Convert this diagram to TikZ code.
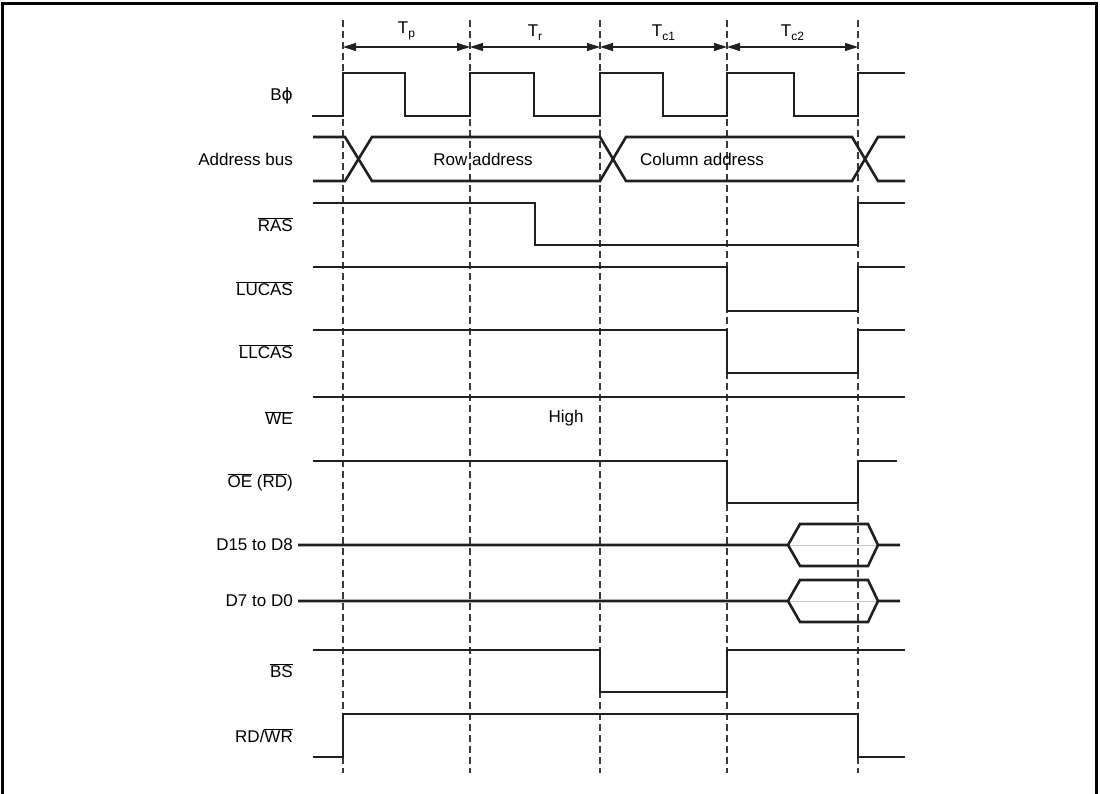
\documentclass[tikz,border=0pt]{standalone}
\usepackage{fontspec}
\setmainfont{Liberation Sans}
\newfontfamily\symfont{DejaVu Sans}
\usetikzlibrary{arrows.meta, positioning, calc}
\definecolor{wave}{HTML}{231F20}
\definecolor{guide}{HTML}{3A3A3A}
\definecolor{midgray}{HTML}{C8C8C8}
\newcommand{\negsig}[1]{$\overline{\mbox{#1}}$}
\newcommand{\Tsub}[1]{T\raisebox{-4pt}{\fontsize{12}{12}\selectfont #1}}

\begin{document}
\begin{tikzpicture}[
        x=1pt, y=-1pt,
        sig/.style={draw=wave, line width=2.6pt, line join=miter},
        tick/.style={draw=guide, line width=1.1pt, dash pattern=on 7pt off 4pt},
        span/.style={draw=wave, line width=1.1pt,
            {Triangle[length=13pt,width=8pt]}-{Triangle[length=13pt,width=8pt]}},
        lbl/.style={anchor=east, font=\fontsize{17}{20}\selectfont, inner sep=0pt},
        txt/.style={font=\fontsize{17}{20}\selectfont, inner sep=0pt},
        hold/.style={draw=midgray, line width=0.8pt}
    ]
    \useasboundingbox (0,0) rectangle (1100,794);

    % Frame
    \draw[line width=3pt] (2.5,800) -- (2.5,4) -- (1096,4) -- (1096,800);

    % Clock edges
    \foreach \n/\x in {0/343, 1/470, 2/600, 3/727, 4/858} {
        \coordinate (t\n) at (\x,47);
        \draw[tick] (\x,20) -- (\x,773);
    }

    % Cycle states
    \foreach \a/\b/\s in {0/1/p, 1/2/r, 2/3/c1, 3/4/c2}
        \draw[span] (t\a) -- node[pos=.5, above=6pt, txt] {\Tsub{\s}} (t\b);

    % Signal names
    \node[lbl] (bphi) at (293,96) {B{\symfont ϕ}};
    \node[lbl] (addr) at (293,159) {Address bus};
    \node[lbl] (ras) at (293,225) {\negsig{RAS}};
    \node[lbl] (lucas) at (293,289) {\negsig{LUCAS}};
    \node[lbl] (llcas) at (293,352) {\negsig{LLCAS}};
    \node[lbl] (we) at (293,418) {\negsig{WE}};
    \node[lbl] (oe) at (293,482) {\negsig{OE} (\negsig{RD})};
    \node[lbl] (dhi) at (293,545) {D15 to D8};
    \node[lbl] (dlo) at (293,601) {D7 to D0};
    \node[lbl] (bs) at (293,671) {\negsig{BS}};
    \node[lbl] (rdwr) at (293,736) {RD/\negsig{WR}};

    % B phi
    \draw[sig] (312,116) -- (343,116) -- (343,73) -- (405,73) -- (405,116)
        -- (470,116) -- (470,73) -- (534,73) -- (534,116) -- (600,116)
        -- (600,73) -- (663,73) -- (663,116) -- (727,116) -- (727,73)
        -- (794,73) -- (794,116) -- (858,116) -- (858,73) -- (905,73);

    % Address bus
    \draw[sig] (313,137) -- (345,137) -- (372,181) -- (600,181) -- (626,137)
        -- (852,137) -- (878,181) -- (905,181);
    \draw[sig] (313,181) -- (345,181) -- (372,137) -- (600,137) -- (626,181)
        -- (852,181) -- (878,137) -- (905,137);
    \node[txt] (row) at (483,159) {Row address};
    \node[txt] (col) at (702,159) {Column address};

    % Strobes
    \draw[sig] (313,203) -- (535,203) -- (535,245) -- (858,245) -- (858,203) -- (905,203);
    \draw[sig] (313,267) -- (727,267) -- (727,311) -- (858,311) -- (858,267) -- (905,267);
    \draw[sig] (313,330) -- (727,330) -- (727,373) -- (858,373) -- (858,330) -- (905,330);
    \draw[sig] (313,397) -- (905,397);
    \node[txt] (high) at (566,418) {High};
    \draw[sig] (313,461) -- (727,461) -- (727,503) -- (858,503) -- (858,461) -- (897,461);

    % Data bus
    \foreach \y in {545, 601} {
        \draw[hold] (788,\y) -- (878,\y);
        \draw[sig] (298,\y) -- (788,\y) -- (800,\y-21) -- (868,\y-21) -- (878,\y) -- (900,\y);
        \draw[sig] (788,\y) -- (800,\y+21) -- (868,\y+21) -- (878,\y);
    }

    % Bus state and direction
    \draw[sig] (313,650) -- (600,650) -- (600,692) -- (727,692) -- (727,650) -- (905,650);
    \draw[sig] (313,757) -- (343,757) -- (343,714) -- (858,714) -- (858,757) -- (905,757);

\end{tikzpicture}
\end{document}
